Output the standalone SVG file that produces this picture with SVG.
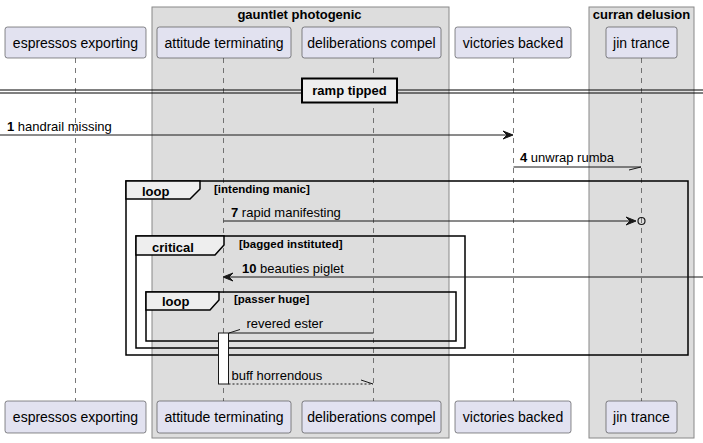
<svg xmlns="http://www.w3.org/2000/svg" width="703" height="443" viewBox="0 0 703 443">
<style>
.grp{fill:#DDDDDD;stroke:#888888;stroke-width:1}
.gt{font-family:"Liberation Sans",Arial,sans-serif;font-size:13px;font-weight:bold;fill:#000;text-anchor:middle}
.pbox{fill:#E2E2F0;stroke:#181818;stroke-width:0.5}
.pt{font-family:"Liberation Sans",Arial,sans-serif;font-size:14px;fill:#000;text-anchor:middle}
.life{stroke:#555;stroke-width:0.8;stroke-dasharray:5,5;fill:none}
.msg{stroke:#181818;stroke-width:1;fill:none}
.dash{stroke:#181818;stroke-width:1;fill:none;stroke-dasharray:2,2}
.ml{font-family:"Liberation Sans",Arial,sans-serif;font-size:13px;fill:#000}
.b{font-weight:bold}
.frame{fill:none;stroke:#000;stroke-width:1.5}
.tab{fill:#EEEEEE;stroke:#000;stroke-width:1.5}
.ft{font-family:"Liberation Sans",Arial,sans-serif;font-size:13px;font-weight:bold;fill:#000}
.cond{font-family:"Liberation Sans",Arial,sans-serif;font-size:11.5px;font-weight:bold;fill:#000}
</style>
<rect width="703" height="443" fill="#FFFFFF"/>
<g id="group-gauntlet">
<rect class="grp" x="152" y="7" width="297" height="431"/>
<text class="gt" x="299.5" y="19">gauntlet photogenic</text>
</g>
<g id="group-curran">
<rect class="grp" x="589" y="7" width="105" height="431"/>
<text class="gt" x="641.5" y="19">curran delusion</text>
</g>
<g id="lifelines">
<line class="life" x1="75.5" y1="58" x2="75.5" y2="401"/>
<line class="life" x1="223.5" y1="58" x2="223.5" y2="401"/>
<line class="life" x1="373.5" y1="58" x2="373.5" y2="401"/>
<line class="life" x1="513.5" y1="58" x2="513.5" y2="401"/>
<line class="life" x1="641.5" y1="58" x2="641.5" y2="401"/>
</g>
<g id="p-espressos">
<rect class="pbox" x="5" y="27" width="141" height="31" rx="2.5"/>
<text class="pt" x="75.5" y="47.5">espressos exporting</text>
<rect class="pbox" x="5" y="401" width="141" height="32" rx="2.5"/>
<text class="pt" x="75.5" y="422">espressos exporting</text>
</g>
<g id="p-attitude">
<rect class="pbox" x="157" y="27" width="134" height="31" rx="2.5"/>
<text class="pt" x="224" y="47.5">attitude terminating</text>
<rect class="pbox" x="157" y="401" width="134" height="32" rx="2.5"/>
<text class="pt" x="224" y="422">attitude terminating</text>
</g>
<g id="p-deliberations">
<rect class="pbox" x="302" y="27" width="139" height="31" rx="2.5"/>
<text class="pt" x="371.5" y="47.5">deliberations compel</text>
<rect class="pbox" x="302" y="401" width="139" height="32" rx="2.5"/>
<text class="pt" x="371.5" y="422">deliberations compel</text>
</g>
<g id="p-victories">
<rect class="pbox" x="455" y="27" width="116" height="31" rx="2.5"/>
<text class="pt" x="513" y="47.5">victories backed</text>
<rect class="pbox" x="455" y="401" width="116" height="32" rx="2.5"/>
<text class="pt" x="513" y="422">victories backed</text>
</g>
<g id="p-jin">
<rect class="pbox" x="606" y="27" width="71" height="31" rx="2.5"/>
<text class="pt" x="641.5" y="47.5">jin trance</text>
<rect class="pbox" x="606" y="401" width="71" height="32" rx="2.5"/>
<text class="pt" x="641.5" y="422">jin trance</text>
</g>
<g id="divider">
<line x1="0" y1="90" x2="703" y2="90" stroke="#000" stroke-width="1"/>
<line x1="0" y1="93" x2="703" y2="93" stroke="#000" stroke-width="1"/>
<rect x="302" y="78.5" width="95" height="24" fill="#EEEEEE" stroke="#000" stroke-width="2"/>
<text class="gt" x="349.5" y="95">ramp tipped</text>
</g>
<g id="frames">
<rect class="frame" x="126" y="181" width="562" height="174"/>
<path class="tab" d="M126,181 H200 V189 L190,199 H126 Z"/>
<text class="ft" x="142" y="195.5">loop</text>
<text class="cond" x="214" y="193">[intending manic]</text>
<rect class="frame" x="136" y="236" width="329" height="112"/>
<path class="tab" d="M136,236 H224 V245 L215,255 H136 Z"/>
<text class="ft" x="152" y="251.5">critical</text>
<text class="cond" x="239" y="248">[bagged instituted]</text>
<rect class="frame" x="146" y="292" width="310" height="49"/>
<path class="tab" d="M146,292 H219 V300 L210,310 H146 Z"/>
<text class="ft" x="162" y="306">loop</text>
<text class="cond" x="234" y="303">[passer huge]</text>
</g>
<g id="activation">
<rect x="218.5" y="333" width="10" height="51" fill="#FFFFFF" stroke="#181818" stroke-width="1"/>
</g>
<g id="connectors">
<line class="msg" x1="0" y1="135" x2="511" y2="135"/>
<polygon points="513,135 503,131 507,135 503,139" fill="#181818" stroke="#181818"/>
<text class="ml" x="7" y="131"><tspan class="b">1</tspan> handrail missing</text>
<line class="msg" x1="513.5" y1="167" x2="641" y2="167"/>
<line class="msg" x1="641" y1="167" x2="629" y2="170"/>
<text class="ml" x="520" y="162"><tspan class="b">4</tspan> unwrap rumba</text>
<line class="msg" x1="223.5" y1="221" x2="634" y2="221"/>
<polygon points="636,221 626,217 630,221 626,225" fill="#181818" stroke="#181818"/>
<circle cx="641.5" cy="221" r="3.5" fill="none" stroke="#181818" stroke-width="1.2"/>
<text class="ml" x="231" y="217"><tspan class="b">7</tspan> rapid manifesting</text>
<line class="msg" x1="703" y1="277" x2="225" y2="277"/>
<polygon points="223,277 233,273 229,277 233,281" fill="#181818" stroke="#181818"/>
<text class="ml" x="242" y="273"><tspan class="b">10</tspan> beauties piglet</text>
<line class="msg" x1="373.5" y1="333" x2="229" y2="333"/>
<line class="msg" x1="229" y1="333" x2="240" y2="329.5"/>
<text class="ml" x="246.5" y="328">revered ester</text>
<line class="dash" x1="228.5" y1="384" x2="373" y2="384"/>
<line class="msg" x1="373" y1="384" x2="361" y2="380"/>
<text class="ml" x="231.5" y="380">buff horrendous</text>
</g>
</svg>
